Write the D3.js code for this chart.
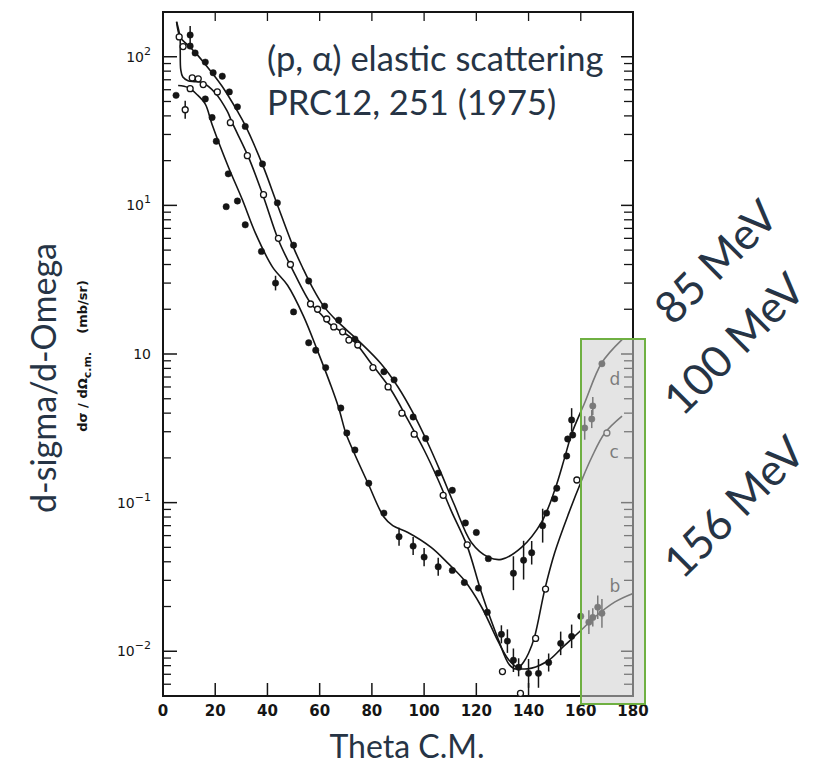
<!DOCTYPE html>
<html lang="en">
<head>
<meta charset="utf-8">
<script src="https://d3js.org/d3.v7.min.js" charset="utf-8"></script>
<style type="text/css">
	body { margin:0; background:#fff; }
	svg { display:block; }
</style>
</head>
<body>
<script type="text/javascript">
// theta (deg C.M.), dsigma/dOmega (mb/sr)
var curve85 = [[5.2,172],[6.5,136],[9,122],[12.3,107],[17.3,84],[22.7,63],[28.5,43],[31.5,34.5],[38.1,18.8],[43.8,10.1],[50,5.2],[53.5,3.8],[57,2.85],[61.5,2.1],[66.9,1.65],[74.6,1.24],[83.5,0.86],[90,0.60],[95.8,0.40],[101.5,0.25],[106.5,0.158],[111.5,0.0975],[118.1,0.054],[124.6,0.043],[129.6,0.0415],[137.3,0.050],[145,0.074],[150,0.121],[153.8,0.20],[156.5,0.29],[161.5,0.47],[168,0.87],[175.8,1.25]];
var curve100 = [[5.2,172],[6.5,136],[6.6,110],[6.8,82],[7.6,73],[9.6,69],[12,68],[15,67],[20,57],[24.6,43],[26.5,36],[32.7,21.2],[38.5,11.4],[44.2,5.85],[49.6,3.7],[56.5,2.2],[60.5,1.85],[64.2,1.57],[71.9,1.29],[79.6,0.87],[87.3,0.575],[93.8,0.36],[100,0.226],[105.4,0.142],[110.4,0.088],[116.5,0.051],[121.9,0.025],[128.5,0.0119],[132.7,0.0081],[135.5,0.0076],[138,0.0084],[140,0.0097],[142.3,0.0125],[146.2,0.026],[150,0.046],[155.4,0.085],[160.4,0.142],[164.2,0.202],[169.2,0.294],[175.8,0.382]];
var curve156 = [[5.8,64],[9.6,62],[13.1,55.5],[16.2,48],[18.8,35],[25,18.2],[30.4,10.9],[35.4,6.5],[41.9,3.86],[47.7,2.9],[53.8,1.8],[59.2,1.05],[64.2,0.62],[67.3,0.433],[70,0.294],[73,0.22],[78.5,0.135],[84.6,0.08],[88,0.07],[93.8,0.063],[102.7,0.050],[109.2,0.039],[115.4,0.030],[121.9,0.020],[128.5,0.0115],[132.3,0.0088],[136.2,0.0077],[141.2,0.0077],[147.7,0.0087],[152.7,0.0105],[160.4,0.014],[165.4,0.017],[173.1,0.0215],[180,0.0245]];

// measured points: [theta, value, error factor (optional)]
var pts85 = [[10.4,140,1.15],[10.4,118],[12.3,106],[16.2,92],[19.2,78],[22.7,74],[25.4,58],[28.5,46],[31.5,34],[38.1,19],[43.8,10.4],[50,5.4],[55.8,3.1],[61.9,2.1],[67.3,1.69],[73.5,1.26],[84.6,0.76],[88.5,0.67],[95.8,0.377],[100.6,0.27],[105.4,0.158],[110.8,0.121],[115.8,0.073],[120,0.063],[124.6,0.042],[134.2,0.0335,1.3],[138.1,0.041,1.35],[141.2,0.046,1.2],[145.4,0.07,1.3],[146.9,0.085],[150,0.106],[150.8,0.125],[154.6,0.206],[155,0.268],[156.5,0.36,1.2],[156.9,0.285],[161.5,0.318,1.2],[164.2,0.365,1.15],[164.6,0.447,1.15],[168.1,0.86]];
var pts100 = [[6.2,136],[7.7,117],[8.5,44,1.15],[10.4,61],[11.2,72],[13.5,71],[15.4,65],[20.8,58],[25.8,36],[32.3,21.6],[38.5,11.8],[44.2,6.0],[48.8,4.0],[56.5,2.17],[59.2,2.0],[62.7,1.72],[65.4,1.52],[68.8,1.41],[71.2,1.24],[74.6,1.15],[80.4,0.81],[86.2,0.60],[91.5,0.40],[96.2,0.289],[107.3,0.112],[116.5,0.052],[130,0.0073],[136.9,0.0052],[142.7,0.0122],[146.5,0.0262],[158.5,0.142],[170,0.294]];
var pts156 = [[5,55],[16.2,52],[18.8,39],[20.4,27],[24.2,9.8],[25,16.3],[28.5,10.7],[31.5,7.4],[37.7,4.9],[43.1,3.0,1.12],[50,1.92],[55.8,1.19],[58.5,1.06],[62.3,0.81],[68.1,0.433],[70.4,0.294],[73.5,0.226],[78.8,0.135],[84.6,0.085],[90.4,0.059,1.15],[95.8,0.051,1.15],[100,0.043,1.15],[105.4,0.037,1.15],[110.8,0.035],[115.4,0.029],[120.8,0.0266],[124.2,0.0183],[129.6,0.013,1.15],[131.9,0.0117,1.2],[134.2,0.0087,1.2],[136.2,0.0078,1.15],[140,0.0071,1.25],[143.8,0.0071,1.25],[147.7,0.0084,1.15],[152.3,0.0113,1.2],[156.5,0.0126,1.2],[160,0.0172,1.2],[163.1,0.0157,1.2],[164.6,0.0169,1.15],[166.5,0.0198,1.2],[168.1,0.018,1.25]];

var xTicks = [0,20,40,60,80,100,120,140,160,180];
var yTicks = [100,10,1,0.1,0.01];
var yTickBase = ["10","10","10","10","10"];
var yTickExp = ["2","1","","-1","-2"];
var curveTags = [["d",171,0.62],["c",171,0.2],["b",171,0.025]];
var energies = ["85 MeV","100 MeV","156 MeV"];

var W = 821, H = 767;
var svg = d3.select('body').append('svg').attr('width', W).attr('height', H);

var x = d3.scaleLinear().domain([0,180]).range([163,633]);
var y = d3.scaleLog().domain([0.005,200]).range([696,12]);
var ink = "#151515";

var plot = svg.append('g');

// minor ticks (2..9 each decade) on left and right
var minor = [];
for (var e = -3; e <= 2; e++) {
	for (var m = 2; m <= 9; m++) {
		var v = m*Math.pow(10,e);
		if (v >= 0.005 && v <= 200) minor.push(v);
	}
}
plot.selectAll('line.ml').data(minor).enter().append('line')
	.attr('x1', x(0)).attr('x2', x(0)+8)
	.attr('y1', function(d){return y(d);}).attr('y2', function(d){return y(d);})
	.attr('stroke', ink).attr('stroke-width', 1.3);
plot.selectAll('line.mr').data(minor).enter().append('line')
	.attr('x1', x(180)).attr('x2', x(180)-9)
	.attr('y1', function(d){return y(d);}).attr('y2', function(d){return y(d);})
	.attr('stroke', ink).attr('stroke-width', 1.3);
plot.selectAll('line.jl').data(yTicks).enter().append('line')
	.attr('x1', x(0)).attr('x2', x(0)+14)
	.attr('y1', function(d){return y(d);}).attr('y2', function(d){return y(d);})
	.attr('stroke', ink).attr('stroke-width', 1.5);
plot.selectAll('line.jr').data(yTicks).enter().append('line')
	.attr('x1', x(180)).attr('x2', x(180)-12)
	.attr('y1', function(d){return y(d);}).attr('y2', function(d){return y(d);})
	.attr('stroke', ink).attr('stroke-width', 1.5);

// x ticks, bottom pointing up and top pointing down
var inner = xTicks.slice(1, -1);
plot.selectAll('line.xb').data(inner).enter().append('line')
	.attr('x1', function(d){return x(d);}).attr('x2', function(d){return x(d);})
	.attr('y1', y(0.005)).attr('y2', y(0.005)-13)
	.attr('stroke', ink).attr('stroke-width', 1.5);
plot.selectAll('line.xt').data(inner).enter().append('line')
	.attr('x1', function(d){return x(d);}).attr('x2', function(d){return x(d);})
	.attr('y1', y(200)).attr('y2', y(200)+9)
	.attr('stroke', ink).attr('stroke-width', 1.3);

// frame
plot.append('rect')
	.attr('x', x(0)).attr('y', y(200))
	.attr('width', x(180)-x(0)).attr('height', y(0.005)-y(200))
	.attr('fill', 'none').attr('stroke', ink).attr('stroke-width', 2);

// tick labels
svg.selectAll('text.xl').data(xTicks).enter().append('text')
	.attr('x', function(d){return x(d);}).attr('y', 716)
	.attr('text-anchor', 'middle')
	.style('font-family', 'DejaVu Sans').style('font-size', '15px').style('font-weight', 'bold')
	.attr('fill', ink)
	.text(function(d){return d;});

var yl = svg.selectAll('text.yl').data(yTicks).enter().append('text')
	.attr('x', 151).attr('y', function(d){return y(d)+5;})
	.attr('text-anchor', 'end')
	.style('font-family', 'DejaVu Sans').style('font-size', '14px')
	.attr('fill', ink);
yl.append('tspan').text(function(d,i){return yTickBase[i];});
yl.append('tspan').attr('dy', -7).style('font-size', '11px')
	.text(function(d,i){return yTickExp[i] ? yTickExp[i].replace('-', '\u2212') : '';});

// y axis caption from the paper
var cap = svg.append('text')
	.attr('transform', 'translate(87,356) rotate(-90)')
	.attr('text-anchor', 'middle')
	.style('font-family', 'DejaVu Sans').style('font-size', '13px').style('font-weight', 'bold')
	.attr('fill', ink);
cap.append('tspan').text('d\u03c3 / d\u03a9');
cap.append('tspan').attr('dy', 4).style('font-size', '11px').text('c.m.');
cap.append('tspan').attr('dy', -4).text('\u00a0\u00a0\u00a0\u00a0(mb/sr)');

// curves
var line = d3.line()
	.x(function(d){return x(d[0]);})
	.y(function(d){return y(d[1]);})
	.curve(d3.curveCatmullRom.alpha(0.5));
[curve85, curve100, curve156].forEach(function(c){
	plot.append('path').datum(c).attr('d', line)
		.attr('fill', 'none').attr('stroke', ink).attr('stroke-width', 1.6);
});

// error bars + markers
function drawPoints(pts, filled) {
	var g = plot.append('g');
	g.selectAll('line').data(pts.filter(function(d){return d[2];})).enter().append('line')
		.attr('x1', function(d){return x(d[0]);}).attr('x2', function(d){return x(d[0]);})
		.attr('y1', function(d){return y(d[1]*d[2]);}).attr('y2', function(d){return y(d[1]/d[2]);})
		.attr('stroke', ink).attr('stroke-width', 1.5);
	g.selectAll('circle').data(pts).enter().append('circle')
		.attr('cx', function(d){return x(d[0]);}).attr('cy', function(d){return y(d[1]);})
		.attr('r', filled ? 3.2 : 3.0)
		.attr('fill', filled ? ink : '#fff')
		.attr('stroke', ink).attr('stroke-width', filled ? 0.5 : 1.3);
}
drawPoints(pts85, true);
drawPoints(pts156, true);
drawPoints(pts100, false);

// curve letters
svg.selectAll('text.tag').data(curveTags).enter().append('text')
	.attr('x', function(d){return x(d[1]);}).attr('y', function(d){return y(d[2]);})
	.style('font-family', 'DejaVu Sans').style('font-size', '17px')
	.attr('fill', ink)
	.text(function(d){return d[0];});

// highlight box over the backward angles
svg.append('rect')
	.attr('x', 581).attr('y', 339).attr('width', 64).attr('height', 365)
	.attr('fill', 'rgb(205,205,205)').attr('fill-opacity', 0.55)
	.attr('stroke', '#6fb042').attr('stroke-width', 2);

// slide annotations
var slate = "#263445";
var title = svg.append('text')
	.style('font-family', 'Lato').style('font-size', '34.5px')
	.attr('fill', slate);
title.append('tspan').attr('x', 267).attr('y', 71).text('(p, \u03b1) elastic scattering');
title.append('tspan').attr('x', 267).attr('y', 115).text('PRC12, 251 (1975)');

svg.append('text')
	.attr('x', 407).attr('y', 758)
	.attr('text-anchor', 'middle')
	.style('font-family', 'Lato').style('font-size', '32px')
	.attr('fill', slate)
	.text('Theta C.M.');

svg.append('text')
	.attr('transform', 'translate(56,378) rotate(-90)')
	.attr('text-anchor', 'middle')
	.style('font-family', 'Lato').style('font-size', '34px')
	.attr('fill', slate)
	.text('d-sigma/d-Omega');

var epos = [[716,262],[734,344],[734,507]];
svg.selectAll('text.en').data(energies).enter().append('text')
	.attr('transform', function(d,i){return 'translate(' + (epos[i][0]+11) + ',' + (epos[i][1]+11) + ') rotate(-45)';})
	.attr('text-anchor', 'middle')
	.style('font-family', 'Lato').style('font-size', '44px')
	.attr('fill', slate)
	.text(function(d){return d;});
</script>
</body>
</html>
